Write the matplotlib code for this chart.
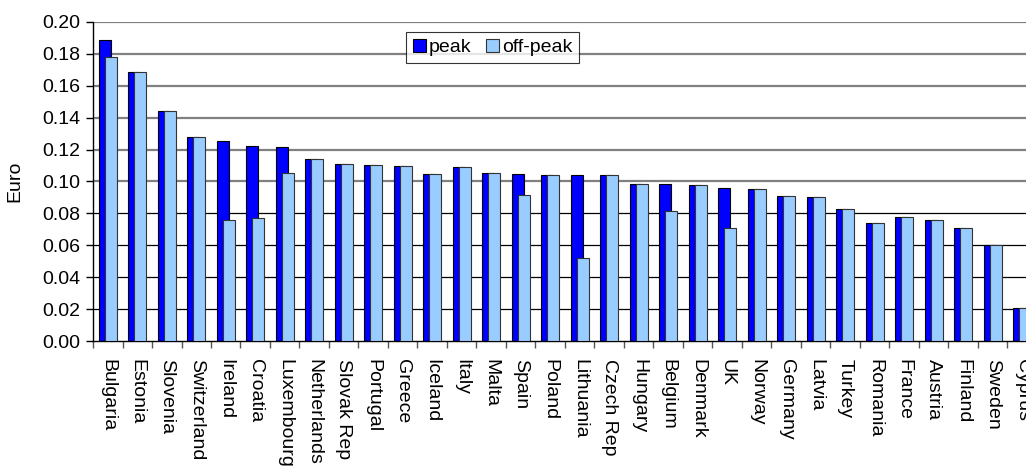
import matplotlib
matplotlib.use('Agg')
import matplotlib.pyplot as plt
import numpy as np

plt.rcParams['font.family'] = ['Liberation Sans', 'DejaVu Sans']

# Дані: країни та ціни (євро) у пікові та непікові години
countries = ['Bulgaria', 'Estonia', 'Slovenia', 'Switzerland', 'Ireland', 'Croatia',
             'Luxembourg', 'Netherlands', 'Slovak Rep', 'Portugal', 'Greece', 'Iceland',
             'Italy', 'Malta', 'Spain', 'Poland', 'Lithuania', 'Czech Rep', 'Hungary',
             'Belgium', 'Denmark', 'UK', 'Norway', 'Germany', 'Latvia', 'Turkey',
             'Romania', 'France', 'Austria', 'Finland', 'Sweden', 'Cyprus']
peak = [0.1885, 0.1687, 0.1441, 0.1280, 0.1251, 0.1224, 0.1214, 0.1139, 0.1112, 0.1101,
        0.1095, 0.1047, 0.1093, 0.1055, 0.1045, 0.1043, 0.1043, 0.1041, 0.0986, 0.0984,
        0.0976, 0.0961, 0.0951, 0.0909, 0.0901, 0.0826, 0.0740, 0.0780, 0.0761, 0.0707,
        0.0599, 0.0204]
off_peak = [0.1783, 0.1687, 0.1441, 0.1280, 0.0759, 0.0770, 0.1051, 0.1139, 0.1112, 0.1101,
            0.1095, 0.1047, 0.1093, 0.1055, 0.0918, 0.1043, 0.0521, 0.1041, 0.0986, 0.0818,
            0.0976, 0.0711, 0.0951, 0.0909, 0.0901, 0.0826, 0.0740, 0.0780, 0.0761, 0.0707,
            0.0599, 0.0204]
y_ticks = [0.00, 0.02, 0.04, 0.06, 0.08, 0.10, 0.12, 0.14, 0.16, 0.18, 0.20]

fig = plt.figure(figsize=(10.26, 4.69), dpi=100)
ax = fig.add_axes([93 / 1026, 1 - 341 / 469, 944 / 1026, 319 / 469])

x = np.arange(len(countries))
w = 0.41

# Горизонтальні лінії сітки (верхні сірі, нижні чорні, як в оригіналі)
for t in y_ticks[1:]:
    if t >= 0.099:
        ax.axhline(t, color='#808080', lw=1.6, zorder=0)
    else:
        ax.axhline(t, color='black', lw=0.9, zorder=0)

ax.bar(x - 0.31, peak, width=w, align='edge', color='#0000FF', edgecolor='black',
       linewidth=0.8, label='peak', zorder=2)
ax.bar(x - 0.107, off_peak, width=w, align='edge', color='#99CCFF', edgecolor='#333333',
       linewidth=0.8, label='off-peak', zorder=3)

ax.set_xlim(-0.5, len(countries) - 0.5)
ax.set_ylim(0, 0.20)
ax.set_yticks(y_ticks)
ax.set_yticklabels([f'{t:.2f}' for t in y_ticks], fontsize=14)
ax.set_ylabel('Euro', fontsize=14, labelpad=14)

ax.set_xticks(x)
ax.set_xticklabels(countries, rotation=-90, fontsize=14, va='top', ha='center')
ax.tick_params(axis='x', which='major', length=0, pad=13)
ax.set_xticks(np.arange(-0.5, len(countries), 1), minor=True)
ax.tick_params(axis='x', which='minor', length=5, width=1, color='#555555')
ax.tick_params(axis='y', length=5, width=1, pad=4)

for s in ['top', 'right']:
    ax.spines[s].set_visible(False)
ax.spines['left'].set_linewidth(1)
ax.spines['bottom'].set_linewidth(1)

leg = ax.legend(loc='upper left', bbox_to_anchor=((406 - 93) / 944, 1 - 10 / 319), ncol=2,
                fontsize=14, frameon=True, fancybox=False, edgecolor='black',
                handlelength=0.67, handleheight=0.67, handletextpad=0.15, columnspacing=0.75,
                borderpad=0.35, borderaxespad=0)
leg.get_frame().set_linewidth(0.8)
leg.set_zorder(5)

fig.savefig('out.png', dpi=100)
